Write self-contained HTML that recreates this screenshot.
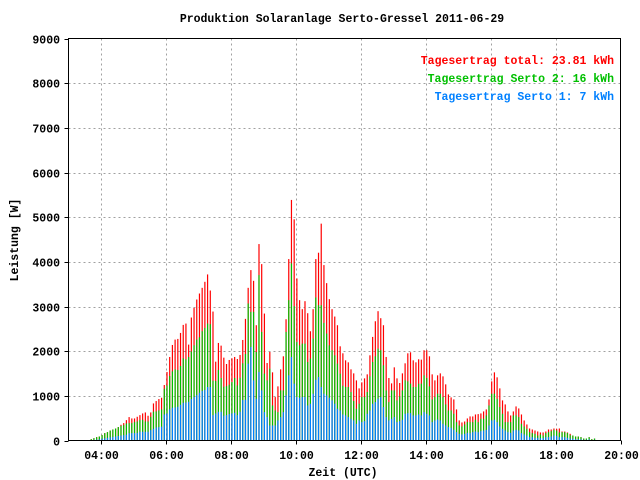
<!DOCTYPE html>
<html><head><meta charset="utf-8"><style>
body{margin:0;background:#fff}
svg{display:block}
text{font-family:"Liberation Mono",monospace;font-weight:bold;font-size:11.5px;fill:#000}
</style></head><body>
<svg id="chart" width="640" height="480" viewBox="0 0 640 480" xmlns="http://www.w3.org/2000/svg">
<rect width="640" height="480" fill="#fff"/>
<text x="342" y="22" text-anchor="middle">Produktion Solaranlage Serto-Gressel 2011-06-29</text>
<g id="grid"></g>
<g id="bars"></g>
<g id="axes"></g>
<text x="343" y="476" text-anchor="middle">Zeit (UTC)</text>
<text x="0" y="0" transform="translate(18,240) rotate(-90)" text-anchor="middle">Leistung [W]</text>
<text x="614" y="64" text-anchor="end" style="fill:#ff0000">Tagesertrag total: 23.81 kWh</text>
<text x="614" y="82" text-anchor="end" style="fill:#00c000">Tagesertrag Serto 2: 16 kWh</text>
<text x="614" y="100" text-anchor="end" style="fill:#0080ff">Tagesertrag Serto 1: 7 kWh</text>
</svg>
<script>
const startMinute = 222;
const stepMinutes = 5;
const yTicks = [0,1000,2000,3000,4000,5000,6000,7000,8000,9000];
const xTickLabels = ["04:00","06:00","08:00","10:00","12:00","14:00","16:00","18:00","20:00"];
const totalW = [30,52,75,90,120,165,187,224,247,269,300,352,389,456,524,494,494,531,568,606,628,554,628,830,883,928,957,1242,1533,1870,2139,2259,2274,2408,2588,2618,2147,2753,2970,3157,3291,3418,3553,3718,3358,2887,1765,2184,2124,1855,1713,1803,1840,1870,1825,1915,2251,2723,3418,3815,3575,2581,4398,3949,2842,1735,1982,1526,972,1212,1593,1885,2715,4062,5386,4952,3628,3142,2940,3119,2850,2446,2940,4062,4204,4855,3927,3523,3164,2940,2775,2581,2109,1952,1795,1750,1593,1503,1346,1167,1302,1391,1481,1907,2319,2670,2895,2738,2581,1870,1399,1279,1638,1391,1287,1503,1728,1952,1975,1795,1750,1818,1810,2020,2020,1885,1481,1346,1459,1503,1436,1257,1032,965,920,696,449,404,426,494,539,539,583,591,606,651,696,920,1324,1526,1414,1167,898,808,651,561,651,763,718,583,449,359,269,247,224,202,180,180,202,247,247,269,262,269,202,202,180,150,112,90,90,75,45,45,75,30,45];
const serto2W = [30,52,75,90,120,165,187,224,247,269,300,329,344,381,389,389,411,426,456,464,426,426,531,643,651,673,696,1159,1234,1444,1548,1593,1578,1668,1840,1818,1870,1990,2132,2259,2311,2446,2521,2618,2603,1339,1331,1578,1399,1204,1219,1249,1309,1399,1234,1406,1728,1937,3067,2880,2880,1982,3703,2431,1496,1346,1608,785,673,636,1122,1122,2431,3142,3964,3007,2207,2132,2169,2169,1758,1833,2281,3201,3029,3029,2633,2394,2132,2020,1907,1720,1496,1227,1197,1197,1085,883,711,823,972,972,1085,1436,1758,1885,2057,2020,1683,1122,860,1122,1122,898,987,1122,1346,1324,1272,1197,1197,1272,1272,1459,1399,1212,920,972,1047,1047,972,808,673,673,598,411,337,314,359,411,411,411,464,411,486,486,561,785,1047,1047,935,748,598,411,411,411,561,561,524,374,314,262,187,165,150,112,135,112,165,187,209,239,224,180,187,187,165,120,112,90,90,75,45,45,75,30,45];
const serto1W = [10,15,20,25,40,50,60,70,80,90,100,110,120,130,165,165,165,170,195,195,195,195,232,260,292,300,310,583,606,696,733,740,755,800,845,850,868,928,972,1017,1070,1107,1130,1197,1197,568,606,643,643,554,568,591,606,621,568,643,905,913,1720,2094,1346,935,1533,1122,636,524,337,337,337,449,524,636,1010,1459,1870,1272,972,957,972,972,785,823,1047,1361,1421,1197,1047,1010,957,898,823,711,673,583,561,524,486,449,374,449,411,434,598,673,823,860,935,972,748,524,449,486,524,411,434,464,598,613,613,561,561,583,561,636,598,561,411,449,471,449,374,337,299,284,239,187,150,135,150,172,165,187,202,187,209,224,239,337,449,464,411,314,262,224,187,172,224,239,224,165,135,112,75,75,60,60,52,52,75,75,90,112,105,75,75,75,60,45,40,30,30,25,15,15,25,10,15];

const NS = "http://www.w3.org/2000/svg";
const PL = 68.5, PR = 620.5, PT = 38.5, PB = 440.5;
const xMinMin = 180, xMaxMin = 1200, yMax = 9000;
function xScale(min){ return PL + (min - xMinMin) / (xMaxMin - xMinMin) * (PR - PL); }
function yScale(v){ return PB - v / yMax * (PB - PT); }
function mk(tag, attrs, parent){ const e = document.createElementNS(NS, tag); for (const k in attrs) e.setAttribute(k, attrs[k]); parent.appendChild(e); return e; }

const grid = document.getElementById('grid');
const axes = document.getElementById('axes');
const bars = document.getElementById('bars');

yTicks.forEach(function(v){
  const y = Math.round(yScale(v)) + 0.5;
  if (v > 0 && v < yMax) {
    const g = mk('line', {x1:PL, x2:PR, y1:y, y2:y, stroke:'#a0a0a0', 'stroke-dasharray':'2,3'}, grid);
    
    
  }
  const t = mk('line', {x1:PL-4, x2:PL, y1:y, y2:y, stroke:'#000'}, axes);
  
  
  const lb = mk('text', {x:60, y:y+4, 'text-anchor':'end'}, axes);
  lb.textContent = String(v);
  
  
});

xTickLabels.forEach(function(lab){
  const p = lab.split(':');
  const m = parseInt(p[0],10)*60 + parseInt(p[1],10);
  const x = Math.round(xScale(m)) + 0.5;
  if (m < xMaxMin) {
    const g = mk('line', {x1:x, x2:x, y1:PT, y2:PB, stroke:'#a0a0a0', 'stroke-dasharray':'2,3'}, grid);
    
    
  }
  const t = mk('line', {x1:x, x2:x, y1:PB, y2:PB+4, stroke:'#000'}, axes);
  
  
  const lb = mk('text', {x:x, y:459, 'text-anchor':'middle'}, axes);
  lb.textContent = lab;
  
  
});

const frame = mk('rect', {x:PL, y:PT, width:PR-PL, height:PB-PT, fill:'none', stroke:'#000'}, axes);



function drawSeries(vals, color, name){
  vals.forEach(function(v, i){
    const x = xScale(startMinute + i*stepMinutes);
    const y = yScale(v);
    const r = mk('rect', {x:(x-0.6).toFixed(2), y:y.toFixed(2), width:1.2, height:(PB-0.5-y).toFixed(2), fill:color}, bars);
    
    
  });
}
drawSeries(totalW, '#ff0000', 'bar-total');
drawSeries(serto2W, '#00c000', 'bar-serto-2');
drawSeries(serto1W, '#0080ff', 'bar-serto-1');
</script>
</body></html>
